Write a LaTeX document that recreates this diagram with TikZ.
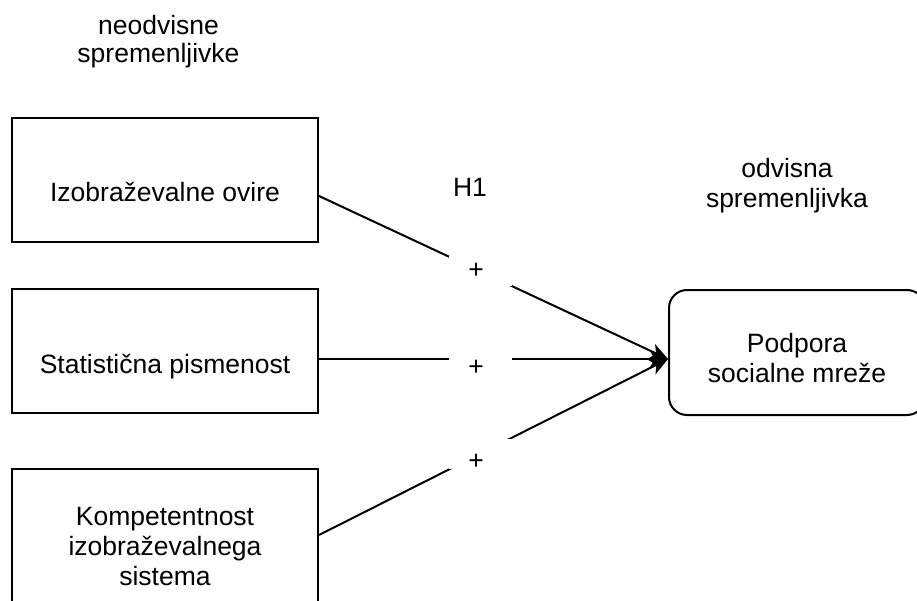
\documentclass[tikz,border=0pt]{standalone}
\usepackage{fontspec}
\setmainfont{Liberation Sans}
\usetikzlibrary{arrows.meta}
% Lines of text whose first baseline sits #1 below the node centre
\newcommand\placedtext[2]{\raisebox{-#1}[0pt][0pt]{\begin{tabular}[t]{@{}c@{}}#2\end{tabular}}}
\begin{document}
\begin{tikzpicture}[x=1pt,y=-1pt,
  every node/.style={font=\fontsize{26.5}{30}\selectfont, inner sep=0pt},
  varbox/.style={draw, line width=2pt, minimum width=306pt, minimum height=124pt},
  outcome/.style={draw, line width=2pt, rounded corners=18pt, minimum width=256pt, minimum height=125pt},
  link/.style={line width=2pt, -{Stealth[length=18pt,width=16pt,inset=5pt]}},
  sign/.style={fill=white, minimum width=63pt, minimum height=30pt, pos=0.4628},
]
\useasboundingbox (0,0) rectangle (917,601);
\clip (0,0) rectangle (917,601);

% headings
\node[font=\fontsize{26.5}{28}\selectfont] (iv) at (158.5,35) {\placedtext{0pt}{neodvisne\\spremenljivke}};
\node (dv) at (787,178) {\placedtext{0pt}{odvisna\\spremenljivka}};
\node (h1) at (470,197) {\placedtext{0pt}{H1}};

% independent variables
\node[varbox] (b1) at (165,180) {\placedtext{22pt}{Izobraževalne ovire}};
\node[varbox] (b2) at (165,351) {\placedtext{22pt}{Statistična pismenost}};
\node[varbox, minimum height=160pt] (b3) at (165,549) {\placedtext{-24pt}{Kompetentnost\\izobraževalnega\\sistema}};

% dependent variable
\node[outcome] (t) at (797,352.5) {\placedtext{0pt}{Podpora\\socialne mreže}};

% hypothesised effects
\draw[link] ([yshift=-16pt]b1.east) -- node[sign] {\placedtext{7.3pt}{+\hspace*{9pt}}} ([yshift=-6.5pt]t.west);
\draw[link] ([yshift=-8pt]b2.east) -- node[sign] {\placedtext{16.3pt}{+\hspace*{9pt}}} ([yshift=-6.5pt]t.west);
\draw[link] ([yshift=14pt]b3.east) -- node[sign] {\placedtext{15.8pt}{+\hspace*{9pt}}} ([yshift=-6.5pt]t.west);
\end{tikzpicture}
\end{document}
